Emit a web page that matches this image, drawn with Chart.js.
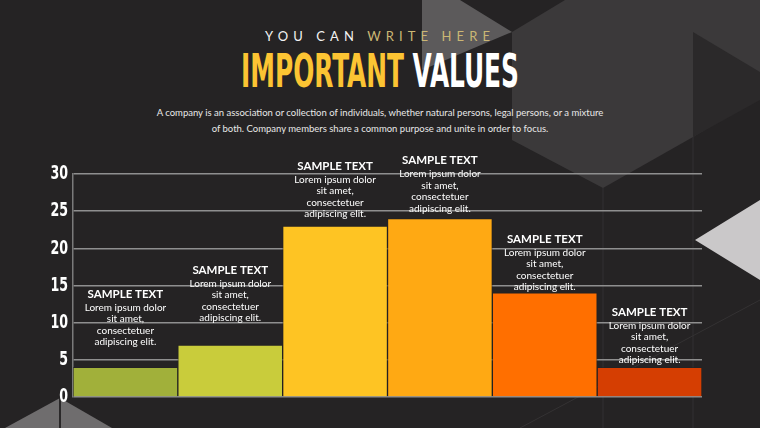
<!DOCTYPE html>
<html>
<head>
<meta charset="utf-8">
<script src="https://cdn.jsdelivr.net/npm/chart.js@4"></script>
<style>
  html, body { margin: 0; padding: 0; background: #252324; }
  #slide { position: relative; width: 760px; height: 428px; overflow: hidden; background: #252324; font-family: Lato, 'Open Sans', sans-serif; }
  #bg { position: absolute; left: 0; top: 0; }
  .kicker { position: absolute; left: 0; width: 760px; top: 28px; text-align: center; font-size: 13px; letter-spacing: 5.1px; color: #f2f2f2; }
  .kicker span { color: #cbb774; }
  .title { position: absolute; left: 0; width: 760px; top: 43px; text-align: center; font-family: 'DejaVu Sans Condensed', sans-serif; font-weight: bold; font-size: 40px; line-height: 56px; color: #fff; transform: scale(0.69, 1.16); transform-origin: 380px 28px; }
  .title span { color: #fcc433; }
  .sub { position: absolute; left: 0; width: 760px; top: 105px; text-align: center; font-size: 9.5px; line-height: 16px; color: #e8e8e8; }
  #wrap { position: absolute; left: 0; top: 0; width: 760px; height: 428px; }
</style>
</head>
<body>
<div id="slide">
  <svg id="bg" width="760" height="428">
    <polygon points="512,32 565,0 760,0 760,97 693,137 603,188 512,140" fill="#3b393a"/>
    <polygon points="693,32 760,72 760,100 693,137" fill="#2b292a"/>
    <polygon points="422,0 460,0 512,32 422,70" fill="#5c5a5b"/>
    <polygon points="695,240 760,200 760,280" fill="#cac8c9"/>
    <polygon points="5,428 60,398 112,428" fill="#6f6d6e"/>
    <line x1="60" y1="398" x2="60" y2="428" stroke="#2a2829" stroke-width="2"/>
    <line x1="603" y1="188" x2="603" y2="428" stroke="#333132" stroke-width="1"/>
    <line x1="693" y1="137" x2="693" y2="428" stroke="#333132" stroke-width="1"/>
    <line x1="520" y1="428" x2="760" y2="300" stroke="#343233" stroke-width="1"/>
  </svg>
  <div class="kicker">YOU CAN <span>WRITE HERE</span></div>
  <div class="title"><span>IMPORTANT</span> VALUES</div>
  <div class="sub">A company is an association or collection of individuals, whether natural persons, legal persons, or a mixture<br>of both. Company members share a common purpose and unite in order to focus.</div>
  <div id="wrap"><canvas id="chart" width="760" height="428"></canvas></div>
</div>
<script>
// ——— DATA ———
const CATEGORIES = ['A', 'B', 'C', 'D', 'E', 'F'];
const VALUES = [4, 7, 23, 24, 14, 4];
const BAR_COLORS = ['#a1b03a', '#c9cc3b', '#fec423', '#ffa913', '#ff6f00', '#d53e02'];
const Y_TICKS = [0, 5, 10, 15, 20, 25, 30];
const LABEL_TITLE = 'SAMPLE TEXT';
const LABEL_LINES = ['Lorem ipsum dolor', 'sit amet,', 'consectetuer', 'adipiscing elit.'];

// ——— LABELS ABOVE BARS ———
const barLabels = {
  id: 'barLabels',
  afterDatasetsDraw(chart, args, opts) {
    const ctx = chart.ctx;
    const meta = chart.getDatasetMeta(0);
    ctx.save();
    ctx.textAlign = 'center';
    ctx.textBaseline = 'middle';
    ctx.fillStyle = '#ffffff';
    meta.data.forEach((bar, i) => {
      const y0 = bar.y + opts.lift[i];
      ctx.font = 'bold 11.5px Lato, "Open Sans", sans-serif';
      ctx.fillText(LABEL_TITLE, bar.x, y0);
      ctx.font = '10px Lato, "Open Sans", sans-serif';
      LABEL_LINES.forEach((t, j) => ctx.fillText(t, bar.x, y0 + 13.5 + j * 11.5));
    });
    ctx.restore();
  }
};

// condensed tick labels: narrowed horizontally, placed by the y scale
const narrowTicks = {
  id: 'narrowTicks',
  afterDraw(chart) {
    const ctx = chart.ctx, y = chart.scales.y;
    ctx.save();
    ctx.fillStyle = '#ffffff';
    ctx.textAlign = 'right';
    ctx.textBaseline = 'middle';
    ctx.font = 'bold 19px "DejaVu Sans Condensed", sans-serif';
    Y_TICKS.forEach(v => {
      ctx.save();
      ctx.translate(y.right - 5, y.getPixelForValue(v));
      ctx.scale(0.74, 1.05);
      ctx.fillText(String(v), 0, 0);
      ctx.restore();
    });
    ctx.restore();
  }
};

new Chart(document.getElementById('chart'), {
  type: 'bar',
  data: {
    labels: CATEGORIES,
    datasets: [{
      data: VALUES,
      backgroundColor: BAR_COLORS,
      borderColor: 'rgba(35,33,34,0.55)',
      borderWidth: 1,
      categoryPercentage: 1,
      barPercentage: 1
    }]
  },
  options: {
    responsive: false,
    animation: false,
    layout: { padding: { left: 0, right: 58, top: 174, bottom: 31 } },
    plugins: {
      legend: { display: false },
      tooltip: { enabled: false },
      barLabels: { lift: [-73, -75, -60, -58, -54, -55] }
    },
    scales: {
      x: { display: false },
      y: {
        min: 0, max: 30,
        afterFit: s => { s.width = 73; },
        afterBuildTicks: s => { s.ticks = Y_TICKS.map(v => ({ value: v })); },
        grid: { color: '#8f8f8f', lineWidth: 1.5, drawTicks: false },
        border: { color: '#7a7a7a', width: 1.5 },
        ticks: { display: false }
      }
    }
  },
  plugins: [barLabels, narrowTicks]
});
</script>
</body>
</html>
